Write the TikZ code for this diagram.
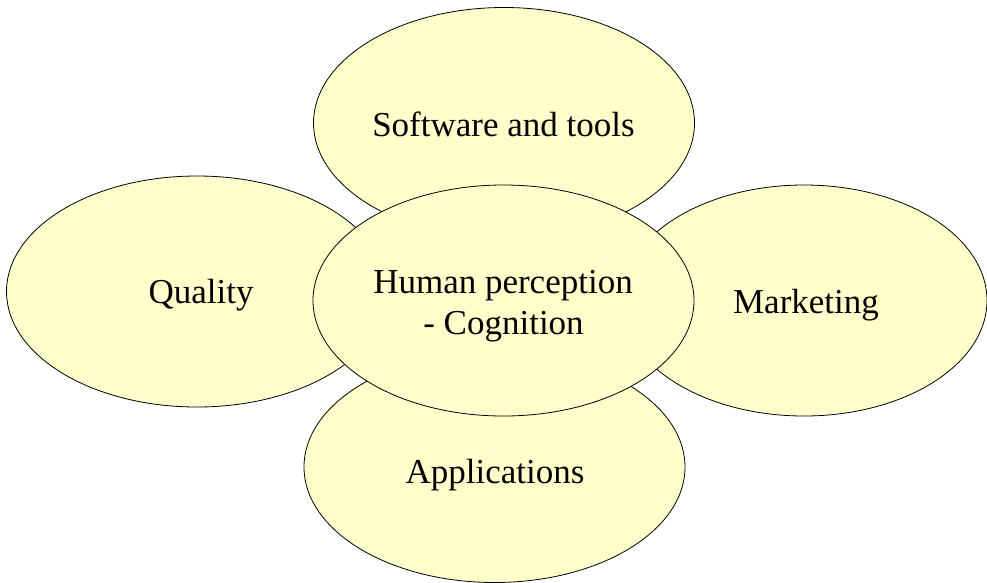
\documentclass[tikz,border=0pt]{standalone}
\usepackage{fontspec}
\setmainfont{Liberation Serif}
\usetikzlibrary{shapes.geometric}
\definecolor{blobfill}{RGB}{255,255,204}
\tikzset{
  blob/.style={ellipse, draw=black, line width=0.8pt, fill=blobfill,
    minimum width=381pt, minimum height=231pt, inner sep=0pt},
  txt/.style={anchor=base, inner sep=0pt, font=\fontsize{35}{41}\selectfont}
}
\begin{document}
\begin{tikzpicture}[x=1pt,y=-1pt]
\useasboundingbox (0,0) rectangle (987,582);
\clip (0,0) rectangle (987,582);
\node[blob] (sw) at (504,123) {};
\node[blob] (ql) at (197,291.5) {};
\node[blob, minimum width=366pt] (mk) at (804,300.5) {};
\node[blob] (ap) at (494.5,467) {};
\node[blob] (hp) at (503.5,300.5) {};
\node[txt] (swt) at (503.5,136) {Software and tools};
\node[txt] (qlt) at (201,303) {Quality};
\node[txt] (mkt) at (806,313) {Marketing};
\node[txt] (apt) at (495,483) {Applications};
\node[txt] (hpt1) at (503,293) {Human perception};
\node[txt] (hpt2) at (503.5,334) {- Cognition};
\end{tikzpicture}
\end{document}
